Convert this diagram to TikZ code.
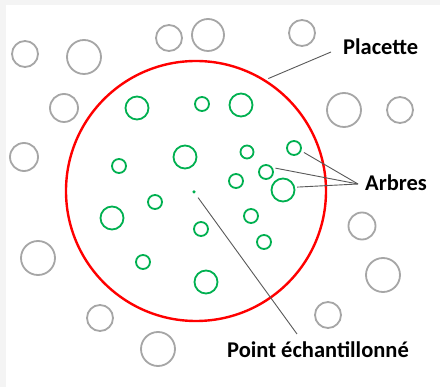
\documentclass[tikz,border=0pt]{standalone}
\usepackage{fontspec}
\setmainfont{Carlito}
\definecolor{plotred}{HTML}{FF0000}
\definecolor{treegreen}{HTML}{00B050}
\definecolor{outgray}{HTML}{A6A6A6}
\definecolor{leadgray}{HTML}{595959}
\definecolor{pagegray}{HTML}{F4F4F4}
\begin{document}
\begin{tikzpicture}[x=1pt,y=-1pt,
  outtree/.style={circle,draw=outgray,line width=1.8pt,inner sep=0pt,minimum size=#1},
  intree/.style={circle,draw=treegreen,line width=1.8pt,inner sep=0pt,minimum size=#1},
  plot/.style={circle,draw=plotred,line width=2.4pt,inner sep=0pt,minimum size=260pt},
  leader/.style={draw=leadgray,line width=0.9pt},
  lbl/.style={anchor=base west,inner sep=0pt,font=\bfseries\fontsize{22.5}{27}\selectfont}]
  % page and margins
  \fill[pagegray] (0,0) rectangle (440,387);
  \fill[white] (6,5) rectangle (440,387);
  \useasboundingbox (0,0) rectangle (440,387);

  % sample plot
  \node[plot] (plac) at (196,191) {};

  % trees outside the plot
  \node[outtree=26pt] (o1) at (25,54) {};
  \node[outtree=34pt] (o2) at (84,57) {};
  \node[outtree=26pt] (o3) at (169,38) {};
  \node[outtree=32pt] (o4) at (208,35) {};
  \node[outtree=28pt] (o5) at (64,108) {};
  \node[outtree=28pt] (o6) at (24,157) {};
  \node[outtree=26pt] (o7) at (302,33) {};
  \node[outtree=34pt] (o8) at (344,110) {};
  \node[outtree=26pt] (o9) at (400,110) {};
  \node[outtree=34pt] (o10) at (38,258) {};
  \node[outtree=26pt] (o11) at (100,318) {};
  \node[outtree=34pt] (o12) at (158,349) {};
  \node[outtree=27pt] (o13) at (362,226) {};
  \node[outtree=34pt] (o14) at (383,275) {};
  \node[outtree=26pt] (o15) at (328,315) {};

  % trees inside the plot
  \node[intree=23pt] (g1) at (137,108) {};
  \node[intree=14pt] (g2) at (202,104) {};
  \node[intree=23pt] (g3) at (241,105) {};
  \node[intree=23pt] (g4) at (185,157) {};
  \node[intree=14pt] (g5) at (119,166) {};
  \node[intree=13pt] (g6) at (247,152) {};
  \node[intree=14pt] (g7) at (294,148) {};
  \node[intree=14pt] (g8) at (266,172) {};
  \node[intree=14pt] (g9) at (236,181) {};
  \node[intree=23pt] (g10) at (283,190) {};
  \node[intree=14pt] (g11) at (155,202) {};
  \node[intree=23pt] (g12) at (112,218) {};
  \node[intree=14pt] (g13) at (201,229) {};
  \node[intree=14pt] (g14) at (143,262) {};
  \node[intree=23pt] (g15) at (206,282) {};
  \node[intree=14pt] (g16) at (251,216) {};
  \node[intree=14pt] (g17) at (264,242) {};

  % sample point
  \node[circle,fill=treegreen,inner sep=0pt,minimum size=3.5pt] (pt) at (194,192) {};

  % labels
  \node[lbl] (lplac) at (343,55) {Placette};
  \node[lbl] (larb) at (365,191) {Arbres};
  \node[lbl] (lpt) at (227,358) {Point échantillonné};
  \coordinate (cplac) at (331,52);
  \coordinate (carb) at (358,184);
  \coordinate (cpt) at (297,334);

  % leader lines
  \draw[leader,shorten <=3pt] (plac.58) -- (cplac);
  \draw[leader,shorten <=3pt] (g7.-22) -- (carb);
  \draw[leader,shorten <=3pt] (g8.34) -- (carb);
  \draw[leader,shorten <=2pt] (g10.13) -- (carb);
  \draw[leader,shorten <=5pt] (pt) -- (cpt);
\end{tikzpicture}
\end{document}
